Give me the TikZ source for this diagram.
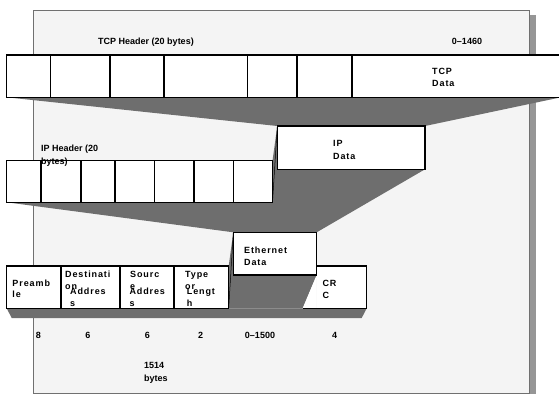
\documentclass[tikz,border=0pt]{standalone}
\usepackage{fontspec}
\setmainfont{Liberation Sans}
\newfontfamily\trackfont{Liberation Sans}[LetterSpace=10]
\usetikzlibrary{calc}
\definecolor{panelfill}{HTML}{F4F4F4}
\definecolor{panelline}{HTML}{707070}
\definecolor{funnelc}{HTML}{6E6E6E}
\definecolor{shadowc}{HTML}{969696}
\pgfdeclarelayer{back}
\pgfdeclarelayer{mid}
\pgfsetlayers{back,mid,main}
\newcommand\mycell[5]{%
  \pgfmathsetmacro\cw{#3-#2}\pgfmathsetmacro\ch{#5-#4}%
  \node[cellbox,minimum width=\cw pt,minimum height=\ch pt] (#1) at (#2,#4) {};}
\begin{document}
\begin{tikzpicture}[x=1pt,y=-1pt,
  cellbox/.style={draw=black, line width=1.2pt, fill=white, inner sep=0pt, outer sep=0pt, anchor=north west},
  lbl/.style={font=\bfseries\fontsize{9}{12}\selectfont, inner sep=0pt},
  boxtxt/.style={font=\trackfont\bfseries\fontsize{9}{12}\selectfont, inner sep=0pt, align=left, anchor=north west},
  funnel/.style={fill=funnelc},
  thinedge/.style={draw=black, line width=0.5pt}
]
\useasboundingbox (0,0) rectangle (559,394);

% TCP row
\mycell{t1}{6.7}{50.7}{55}{97.3}
\mycell{t2}{50.7}{110}{55}{97.3}
\mycell{t3}{110}{164}{55}{97.3}
\mycell{t4}{164}{247.5}{55}{97.3}
\mycell{t5}{247.5}{297}{55}{97.3}
\mycell{t6}{297}{352}{55}{97.3}
\mycell{t7}{352}{561}{55}{97.3}

% IP data
\mycell{ipdata}{277.3}{425}{126}{169.3}
% IP header row
\mycell{i1}{6.7}{41}{160.7}{202.3}
\mycell{i2}{41}{81}{160.7}{202.3}
\mycell{i3}{81}{115}{160.7}{202.3}
\mycell{i4}{115}{154.3}{160.7}{202.3}
\mycell{i5}{154.3}{194}{160.7}{202.3}
\mycell{i6}{194}{233.3}{160.7}{202.3}
\mycell{i7}{233.3}{272.5}{160.7}{202.3}

% CRC (white, edges drawn separately)
\node[cellbox, draw=none, minimum width=50pt, minimum height=42.3pt] (crc) at (316.7,266) {};
\draw[line width=1.2pt] (crc.north west) -- (crc.north east) -- (crc.south east) -- ($(crc.south west)+(-14,0)$);
% Ethernet data
\mycell{ethdata}{233.3}{316.7}{232.3}{275}
% Ethernet row
\mycell{e1}{6.7}{61}{266}{308.3}
\mycell{e2}{61}{120}{266}{308.3}
\mycell{e3}{120}{174}{266}{308.3}
\mycell{e4}{174}{228.7}{266}{308.3}

\begin{pgfonlayer}{back}
  \fill[shadowc] (529.5,15) rectangle (535.5,394);
  \fill[panelfill] (33,10) rectangle (529,393);
  \draw[panelline, line width=0.9pt] (33,10) rectangle (529,393);
\end{pgfonlayer}
\begin{pgfonlayer}{mid}
  \fill[funnel] (t1.south west) -- (t7.south east) -- (ipdata.north east) -- (ipdata.north west) -- cycle;
  \fill[funnel] (i1.south west) -- (i7.north east) -- (ipdata.north west) -- (ipdata.north east)
     -- (ipdata.south east) -- (ethdata.north east) -- (ethdata.north west) -- cycle;
  \draw[thinedge] (ipdata.north west) -- (i7.south east);
  \fill[funnel] (e4.north east) -- (ethdata.north west) -- (ethdata.north east) -- (ethdata.south east)
     -- ($(crc.south west)+(-14,0)$) -- (e4.south east) -- cycle;
  \fill[funnel] (e1.south west) -- (crc.south east) -- ++(-5,9.7) -- ($(e1.south west)+(5,9.7)$) -- cycle;
  \draw[thinedge] (ethdata.north west) -- (e4.south east);
  \fill[white] (ethdata.south east) -- (crc.south west) -- ($(crc.south west)+(-14,0)$) -- cycle;
\end{pgfonlayer}

% labels
\node[lbl, anchor=base] (tcphdr) at (146,44.3) {TCP Header (20 bytes)};
\node[lbl, anchor=base] (tcplen) at (467,44.3) {0–1460};
\node[boxtxt] (tcpdatat) at (432,68.3) {TCP\\Data};
\node[boxtxt, font=\trackfont\bfseries\fontsize{9}{13}\selectfont] (ipdatat) at (333,139.7) {IP\\Data};
\node[lbl, align=left, anchor=north west, font=\bfseries\fontsize{9}{13}\selectfont] (iphdr) at (41,144.4) {IP Header (20\\bytes)};
\node[boxtxt] (ethdatat) at (244,246.7) {Ethernet\\Data};
\node[boxtxt, font=\trackfont\bfseries\fontsize{9}{11.2}\selectfont] (preamt) at (12.3,280) {Preamb\\le};
\node[boxtxt] (destt) at (65,270.7) {Destinati\\on};
\node[boxtxt] (destaddr) at (70,287.7) {Addres\\s};
\node[boxtxt] (srct) at (130,270.7) {Sourc\\e};
\node[boxtxt] (srcaddr) at (129.3,287.7) {Addres\\s};
\node[boxtxt] (typet) at (185,270.7) {Type\\or};
\node[boxtxt] (lent) at (186.7,287.7) {Lengt\\h};
\node[boxtxt] (crct) at (322.3,280) {CR\\C};

\node[lbl, anchor=base] (n8) at (38.5,338.3) {8};
\node[lbl, anchor=base] (n6a) at (88,338.3) {6};
\node[lbl, anchor=base] (n6b) at (147.5,338.3) {6};
\node[lbl, anchor=base] (n2) at (200.5,338.3) {2};
\node[lbl, anchor=base] (n1500) at (260,338.3) {0–1500};
\node[lbl, anchor=base] (n4) at (334.5,338.3) {4};
\node[lbl, align=left, anchor=north west, font=\bfseries\fontsize{9}{13}\selectfont] (total) at (144,361.7) {1514\\bytes};
\end{tikzpicture}
\end{document}
